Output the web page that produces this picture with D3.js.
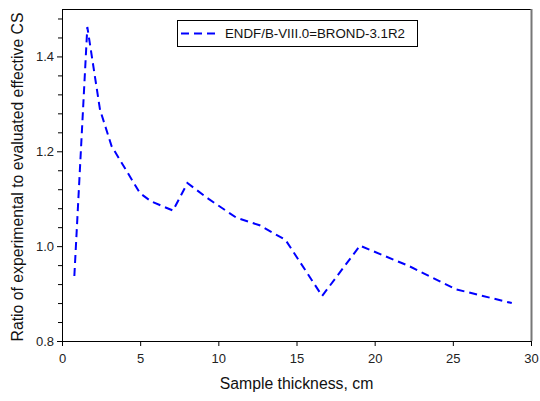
<html>
<head>
<title>Ratio chart</title>
<script src="https://cdn.jsdelivr.net/npm/d3@7"></script>
<style>
  body { margin: 0; background: #fff; }
  svg { font-family: "Liberation Sans", Arial, sans-serif; }
  .tick text { font-size: 13px; fill: #222; }
</style>
</head>
<body>
<svg width="540" height="401"></svg>
<script>
// thickness (cm) and ratio values
var thickness = [0.79, 1.62, 2.43, 3.17, 4.98, 5.72, 7.1, 8.02, 9.4, 11.15, 12.64, 14.3, 16.64, 19.06, 22.2, 25.2, 28.77];
var ratio     = [0.937, 1.462, 1.288, 1.211, 1.112, 1.094, 1.075, 1.133, 1.099, 1.06, 1.044, 1.013, 0.895, 1.001, 0.958, 0.909, 0.880];
var xTicks = [0, 5, 10, 15, 20, 25, 30];
var yTicks = [0.8, 1.0, 1.2, 1.4];
var seriesName = "ENDF/B-VIII.0=BROND-3.1R2";

var svg = d3.select("svg"),
    pLeft = 62, pRight = 531, pTop = 9, pBottom = 341;

var x = d3.scaleLinear().domain([0, 30]).range([pLeft, pRight]);
var y = d3.scaleLinear().domain([0.8, 1.5]).range([pBottom, pTop]);

// frame top / right
svg.append("line").attr("x1", pLeft).attr("x2", pRight).attr("y1", pTop + 0.5).attr("y2", pTop + 0.5)
   .attr("stroke", "#000").attr("stroke-width", 1);
svg.append("line").attr("x1", pRight + 0.5).attr("x2", pRight + 0.5).attr("y1", pTop).attr("y2", pBottom)
   .attr("stroke", "#777").attr("stroke-width", 2);

var xAxis = svg.append("g").attr("transform", "translate(0," + pBottom + ")")
   .call(d3.axisBottom(x).tickValues(xTicks).tickSize(5).tickSizeOuter(0).tickFormat(d3.format("d")));
xAxis.selectAll("text").attr("dy", "1.1em");

// minor y ticks
var minor = d3.range(0.84, 1.5, 0.04).filter(function(v){ return Math.abs((v - 0.8) / 0.2 - Math.round((v - 0.8) / 0.2)) > 0.01; });
svg.append("g").attr("transform", "translate(" + pLeft + ",0)")
   .call(d3.axisLeft(y).tickValues(minor).tickSize(4).tickFormat("").tickSizeOuter(0))
   .select(".domain").remove();
var yAxis = svg.append("g").attr("transform", "translate(" + pLeft + ",0)")
   .call(d3.axisLeft(y).tickValues(yTicks).tickSize(5).tickSizeOuter(0).tickFormat(d3.format(".1f")));
svg.selectAll(".domain").attr("stroke", "#000");

svg.append("text").attr("x", (pLeft + pRight) / 2).attr("y", 389).attr("text-anchor", "middle")
   .attr("font-size", 15.8).attr("fill", "#111").text("Sample thickness, cm");
svg.append("text").attr("transform", "translate(23,177) rotate(-90)")
   .attr("text-anchor", "middle").attr("font-size", 15.8).attr("fill", "#111")
   .text("Ratio of experimental to evaluated effective CS");

var line = d3.line().x(function(d){ return x(d[0]); }).y(function(d){ return y(d[1]); });
svg.append("path").datum(d3.zip(thickness, ratio)).attr("d", line)
   .attr("fill", "none").attr("stroke", "#0000ff").attr("stroke-width", 2)
   .attr("stroke-dasharray", "8,5");

// legend
var lg = svg.append("g");
lg.append("rect").attr("x", 177.5).attr("y", 20.5).attr("width", 240).attr("height", 26)
  .attr("fill", "#fff").attr("stroke", "#000");
lg.append("line").attr("x1", 181).attr("x2", 215).attr("y1", 33.5).attr("y2", 33.5)
  .attr("stroke", "#0000ff").attr("stroke-width", 2).attr("stroke-dasharray", "8,5");
lg.append("text").attr("x", 225).attr("y", 38).attr("font-size", 13.3).attr("fill", "#111").text(seriesName);
</script>
</body>
</html>
